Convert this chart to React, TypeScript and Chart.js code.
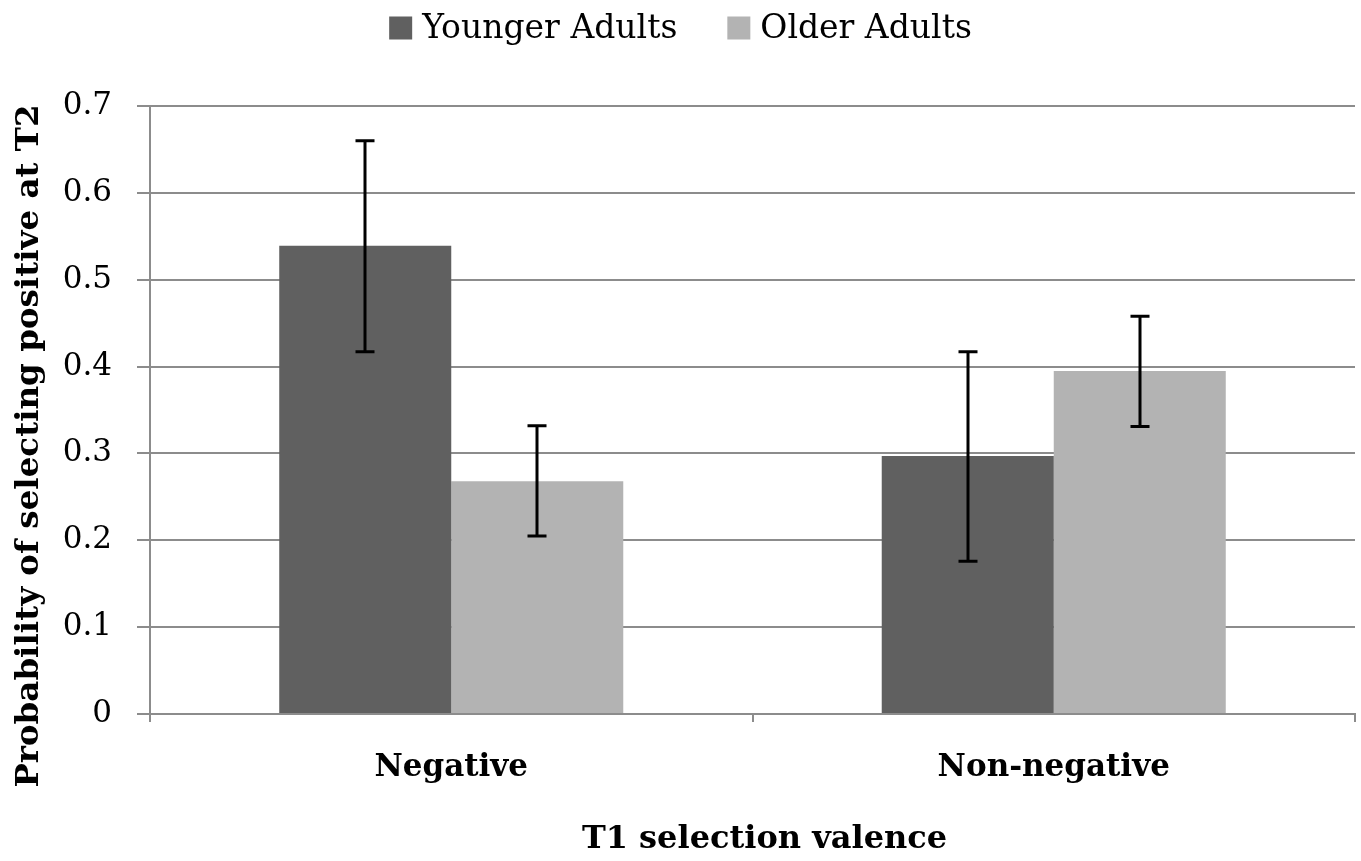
import { useEffect, useRef } from "react";
import { Chart, registerables } from "chart.js";

Chart.register(...registerables);

const categories = ["Negative", "Non-negative"];
const seriesNames = ["Younger Adults", "Older Adults"];
const youngerMeans = [0.539, 0.297];
const olderMeans = [0.268, 0.395];
const youngerLow = [0.417, 0.176];
const youngerHigh = [0.66, 0.417];
const olderLow = [0.205, 0.331];
const olderHigh = [0.332, 0.458];
const seriesColors = ["#606060", "#b3b3b3"];
const yMin = 0;
const yMax = 0.7;
const yStep = 0.1;
const xTitle = "T1 selection valence";
const yTitle = "Probability of selecting positive at T2";

const FONT = "'DejaVu Serif', 'Liberation Serif', serif";

const errorLows = [youngerLow, olderLow];
const errorHighs = [youngerHigh, olderHigh];

const errorBarPlugin = {
  id: "errorBars",
  afterDatasetsDraw(chart: any) {
    const ctx = chart.ctx;
    const yScale = chart.scales.y;
    ctx.save();
    ctx.strokeStyle = "#000";
    ctx.lineWidth = 3;
    chart.data.datasets.forEach((_: any, i: number) => {
      const meta = chart.getDatasetMeta(i);
      meta.data.forEach((el: any, j: number) => {
        const x = Math.round(el.x);
        const yLo = yScale.getPixelForValue(errorLows[i][j]);
        const yHi = yScale.getPixelForValue(errorHighs[i][j]);
        const cap = 9.5;
        ctx.beginPath();
        ctx.moveTo(x, yHi);
        ctx.lineTo(x, yLo);
        ctx.moveTo(x - cap, yHi);
        ctx.lineTo(x + cap, yHi);
        ctx.moveTo(x - cap, yLo);
        ctx.lineTo(x + cap, yLo);
        ctx.stroke();
      });
    });
    ctx.restore();
  },
};

const legendAndTitlesPlugin = {
  id: "legendAndTitles",
  afterDraw(chart: any) {
    const ctx = chart.ctx;
    const area = chart.chartArea;
    ctx.save();
    // legend row
    ctx.font = `33px ${FONT}`;
    ctx.textBaseline = "middle";
    ctx.textAlign = "left";
    const box = 23;
    const gap = 10;
    const spacing = 50;
    const widths = seriesNames.map((n) => ctx.measureText(n).width);
    const total = widths.reduce((a, w) => a + box + gap + w, 0) + spacing * (seriesNames.length - 1);
    let x = chart.width / 2 - total / 2;
    const cy = 28;
    seriesNames.forEach((name, i) => {
      ctx.fillStyle = seriesColors[i];
      ctx.fillRect(x, cy - box / 2, box, box);
      x += box + gap;
      ctx.fillStyle = "#000";
      ctx.fillText(name, x, cy + 1);
      x += widths[i] + spacing;
    });
    // axis titles
    ctx.font = `bold 32px ${FONT}`;
    ctx.textAlign = "center";
    ctx.textBaseline = "middle";
    ctx.fillText(xTitle, (area.left + area.right) / 2 + 12, 840);
    ctx.translate(30, (area.top + area.bottom) / 2 + 36);
    ctx.rotate(-Math.PI / 2);
    ctx.font = `bold 32.5px ${FONT}`;
    ctx.fillText(yTitle, 0, 0);
    ctx.restore();
  },
};

export default function App() {
  const canvasRef = useRef<HTMLCanvasElement | null>(null);

  useEffect(() => {
    const canvas = canvasRef.current;
    if (!canvas) return;
    const chart = new Chart(canvas, {
      type: "bar",
      data: {
        labels: categories,
        datasets: [
          {
            label: seriesNames[0],
            data: youngerMeans,
            backgroundColor: seriesColors[0],
            borderWidth: 0,
            categoryPercentage: 0.571,
            barPercentage: 1,
          },
          {
            label: seriesNames[1],
            data: olderMeans,
            backgroundColor: seriesColors[1],
            borderWidth: 0,
            categoryPercentage: 0.571,
            barPercentage: 1,
          },
        ],
      },
      options: {
        animation: false,
        responsive: false,
        devicePixelRatio: 1,
        layout: { padding: { top: 106, right: 6, left: 0, bottom: 0 } },
        plugins: {
          legend: { display: false },
          tooltip: { enabled: false },
        },
        scales: {
          x: {
            afterFit(scale: any) {
              scale.height = 147;
            },
            grid: {
              offset: true,
              drawOnChartArea: false,
              drawTicks: true,
              tickLength: 8,
              color: "#8c8c8c",
              lineWidth: 2,
            },
            border: { color: "#8c8c8c", width: 2 },
            ticks: {
              color: "#000",
              padding: 27,
              font: { family: FONT, size: 31, weight: "bold" },
            },
          },
          y: {
            min: yMin,
            max: yMax,
            afterFit(scale: any) {
              scale.width = 150;
            },
            grid: {
              color: "#8c8c8c",
              lineWidth: 2,
              tickLength: 13,
            },
            border: { color: "#8c8c8c", width: 2 },
            ticks: {
              stepSize: yStep,
              color: "#000",
              padding: 25,
              font: { family: FONT, size: 31 },
              callback: (v: any) => (Number(v) === 0 ? "0" : Number(v).toFixed(1)),
            },
          },
        },
      },
      plugins: [errorBarPlugin, legendAndTitlesPlugin],
    });
    return () => chart.destroy();
  }, []);

  return (
    <div style={{ position: "fixed", left: 0, top: 0, width: 1361, height: 861, background: "#fff" }}>
      <canvas ref={canvasRef} width={1361} height={861} style={{ display: "block" }} />
    </div>
  );
}
